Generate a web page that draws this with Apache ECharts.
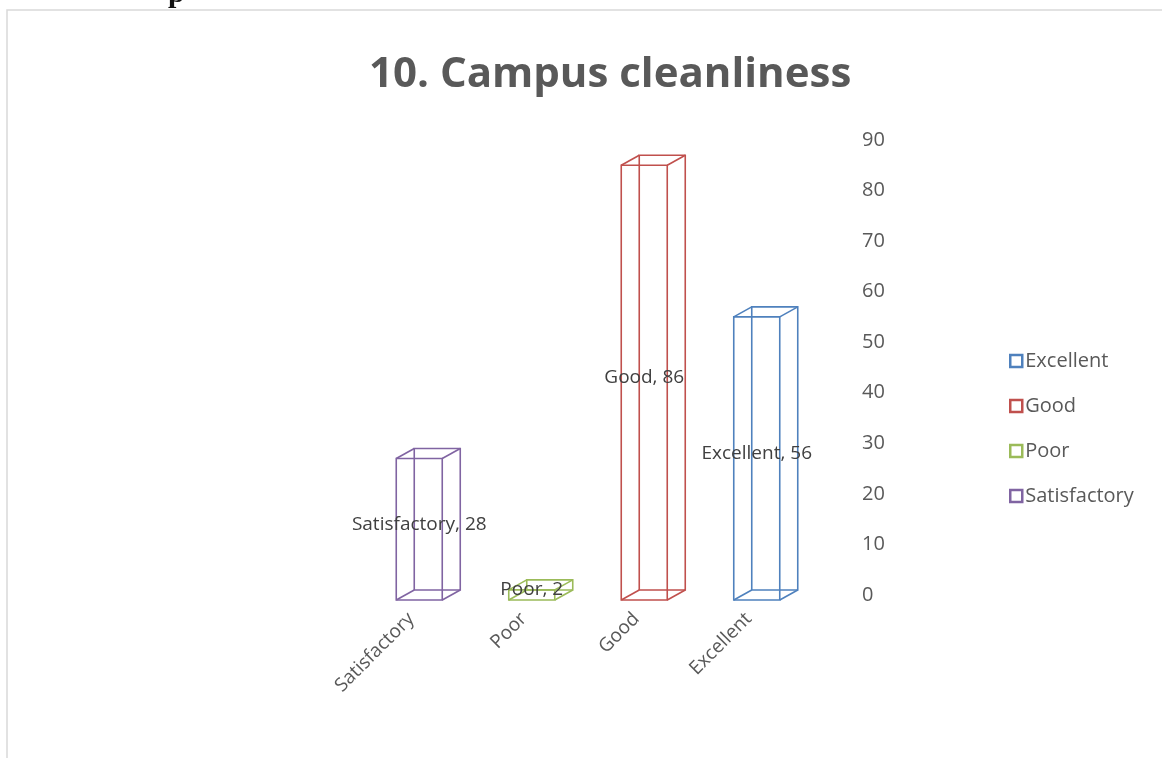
<!DOCTYPE html>
<html>
<head>
<meta charset="utf-8">
<script src="https://cdn.jsdelivr.net/npm/echarts@6/dist/echarts.min.js"></script>
<style>
  html, body { margin: 0; padding: 0; background: #fff; }
  #chart { width: 1162px; height: 758px; }
</style>
</head>
<body>
<div id="chart"></div>
<script>
// categories along the x axis (left to right)
const categories = ['Satisfactory', 'Poor', 'Good', 'Excellent']
const values = [28, 2, 86, 56]
// legend / series order
const seriesNames = ['Excellent', 'Good', 'Poor', 'Satisfactory']
const seriesColors = ['#4f81bd', '#c0504d', '#9bbb59', '#8064a2']
const yTicks = { min: 0, max: 90, interval: 10 }

const chart = echarts.init(document.getElementById('chart'))

// wireframe box, front face + back face shifted up-right
function renderBox(params, api) {
  const cat = api.value(0)
  const val = api.value(1)
  const top = api.coord([cat, val])
  const base = api.coord([cat, 0])
  const color = api.visual('color')
  const w = 46
  const dx = 18
  const dy = 10
  const x0 = top[0] - (w + dx) / 2
  const x1 = x0 + w
  const fy0 = top[1] + dy / 2
  const fy1 = base[1] + dy / 2
  const by0 = fy0 - dy
  const by1 = fy1 - dy
  const ls = { stroke: color, lineWidth: 1.6, fill: null }
  const line = (a, b, c, d) => ({ type: 'line', shape: { x1: a, y1: b, x2: c, y2: d }, style: ls })
  return {
    type: 'group',
    children: [
      { type: 'rect', shape: { x: x0 + dx, y: by0, width: w, height: by1 - by0 }, style: ls },
      { type: 'rect', shape: { x: x0, y: fy0, width: w, height: fy1 - fy0 }, style: ls },
      line(x0, fy0, x0 + dx, by0),
      line(x1, fy0, x1 + dx, by0),
      line(x0, fy1, x0 + dx, by1),
      line(x1, fy1, x1 + dx, by1),
      {
        type: 'text',
        style: {
          x: x0 + w / 2,
          y: (fy0 + fy1) / 2 - 5,
          text: categories[cat] + ', ' + val,
          fill: '#404040',
          font: '19px "Open Sans", sans-serif',
          align: 'center',
          verticalAlign: 'middle'
        },
        z2: 10
      }
    ]
  }
}

const series = seriesNames.map(function(name, i) {
  const idx = categories.indexOf(name)
  return {
    name: name,
    type: 'custom',
    renderItem: renderBox,
    itemStyle: { color: seriesColors[i] },
    encode: { x: 0, y: 1 },
    data: [[idx, values[idx]]]
  }
})

chart.setOption({
  animation: false,
  textStyle: { fontFamily: '"Open Sans", sans-serif' },
  title: {
    text: '10. Campus cleanliness',
    left: 364,
    top: 49,
    textStyle: {
      fontFamily: '"Open Sans", sans-serif',
      fontSize: 42,
      fontWeight: 'bold',
      color: '#595959'
    }
  },
  graphic: [
    {
      type: 'rect',
      shape: { x: 7, y: 10, width: 1170, height: 780 },
      style: { fill: null, stroke: '#d9d9d9', lineWidth: 1.5 },
      silent: true
    },
    {
      type: 'text',
      style: {
        x: 168,
        y: 9,
        text: 'p',
        font: 'bold 30px "Liberation Serif", serif',
        fill: '#111',
        verticalAlign: 'bottom'
      },
      silent: true
    }
  ],
  legend: {
    orient: 'vertical',
    left: 1004,
    top: 344,
    itemWidth: 12,
    itemHeight: 12,
    itemGap: 21,
    icon: 'rect',
    textStyle: { color: '#595959', fontSize: 20, lineHeight: 24, padding: [0, 0, 0, -2] },
    data: seriesNames.map(function(name, i) {
      return { name: name, itemStyle: { color: '#fff', borderColor: seriesColors[i], borderWidth: 2.5 } }
    })
  },
  grid: { left: 372, right: 340, top: 140, bottom: 163 },
  xAxis: {
    type: 'category',
    data: categories,
    axisLine: { show: false },
    axisTick: { show: false },
    axisLabel: { rotate: 45, margin: 4, padding: [0, 24, 0, 0], color: '#595959', fontSize: 19 }
  },
  yAxis: {
    type: 'value',
    position: 'right',
    min: yTicks.min,
    max: yTicks.max,
    interval: yTicks.interval,
    splitLine: { show: false },
    axisLine: { show: false },
    axisTick: { show: false },
    axisLabel: { margin: 40, color: '#595959', fontSize: 20 }
  },
  series: series
})
</script>
</body>
</html>
